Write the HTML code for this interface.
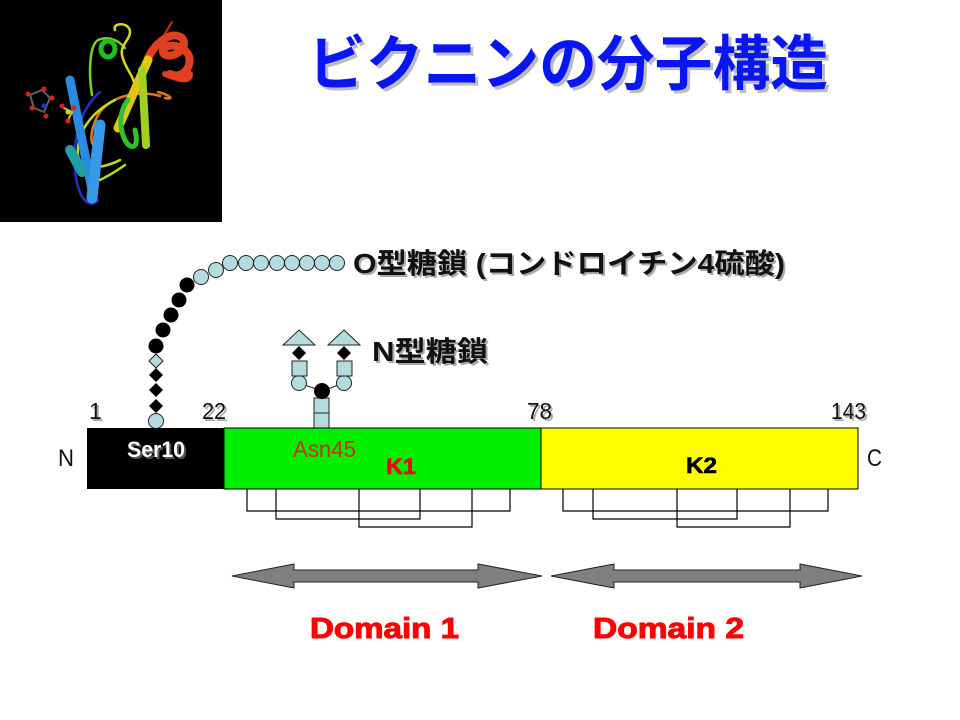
<!DOCTYPE html>
<html><head><meta charset="utf-8">
<style>
html,body{margin:0;padding:0;background:#fff;}
svg{display:block;}
text{font-family:"Liberation Sans","Noto Sans CJK JP",sans-serif;}
</style></head>
<body>
<svg width="960" height="720" viewBox="0 0 960 720" xmlns="http://www.w3.org/2000/svg">
<rect width="960" height="720" fill="#fff"/>

<!-- protein image -->
<rect x="0" y="0" width="222" height="222" fill="#000"/>
<g fill="none" stroke-linecap="round" stroke-linejoin="round">
  <path d="M150,58 L172,22" stroke="#d03010" stroke-width="2"/>
  <path d="M148,58 C156,42 172,30 182,38 C190,48 172,60 164,54 C158,46 178,40 188,54 C194,66 182,80 170,74" stroke="#e04020" stroke-width="8"/>
  <path d="M165,74 C180,80 190,82 190,74" stroke="#e04020" stroke-width="6"/>
  <path d="M160,96 C140,90 110,95 98,115 C88,135 90,150 100,146" stroke="#e07a20" stroke-width="2.5"/>
  <path d="M158,92 C170,95 175,100 165,98" stroke="#e07a20" stroke-width="2.5"/>
  <path d="M120,160 C100,170 80,170 78,155 C76,130 95,110 115,100" stroke="#c8d820" stroke-width="2.5"/>
  <path d="M92,95 C88,70 90,45 98,40 C110,35 120,42 125,48" stroke="#80d020" stroke-width="2.5"/>
  <path d="M115,30 C112,22 130,22 130,32 C130,40 120,45 122,55 C125,70 135,75 135,90" stroke="#d8d820" stroke-width="2.5"/>
  <ellipse cx="108" cy="49" rx="7" ry="8" stroke="#20c020" stroke-width="5"/>
  <path d="M118,128 L148,60" stroke="#e0c810" stroke-width="9"/>
  <path d="M142,70 L146,145" stroke="#a0d020" stroke-width="8"/>
  <path d="M128,100 C120,110 118,125 125,140 C130,150 140,150 135,130" stroke="#30c030" stroke-width="5"/>
  <path d="M100,92 C85,105 72,130 75,170 C78,200 90,210 98,200" stroke="#2030c0" stroke-width="2.5"/>
  <path d="M70,80 L92,190" stroke="#2a8ae0" stroke-width="9"/>
  <path d="M100,125 L92,198" stroke="#3898e8" stroke-width="11"/>
  <path d="M70,150 L82,172" stroke="#20a0a0" stroke-width="10"/>
  <path d="M100,180 C110,175 118,170 125,165" stroke="#b8d820" stroke-width="2.5"/>
  <path d="M30,95 L42,90 L50,98 L44,112 L34,108 Z" stroke="#606060" stroke-width="2"/>
  <path d="M64,108 L72,112 L68,120" stroke="#d0c020" stroke-width="2"/>
</g>
<g fill="#e02020">
  <circle cx="28" cy="94" r="2.5"/><circle cx="44" cy="89" r="2.5"/><circle cx="52" cy="98" r="2.5"/>
  <circle cx="32" cy="108" r="2.5"/><circle cx="46" cy="116" r="2.5"/><circle cx="62" cy="106" r="2.5"/>
  <circle cx="74" cy="108" r="2.5"/><circle cx="68" cy="121" r="2.5"/>
</g>
<circle cx="44" cy="106" r="2.5" fill="#2030e0"/>
<circle cx="68" cy="112" r="2.5" fill="#e0d020"/>

<!-- Title -->
<text x="311" y="88" font-size="60" font-weight="bold" fill="#bbbbbb" textLength="520" lengthAdjust="spacingAndGlyphs">ビクニンの分子構造</text>
<text x="308" y="85" font-size="60" font-weight="bold" fill="#0a16f2" textLength="520" lengthAdjust="spacingAndGlyphs">ビクニンの分子構造</text>

<!-- O-glycan chain -->
<g stroke="#222" stroke-width="1" fill="#b4dce0">
  <circle cx="337" cy="263" r="7.5"/><circle cx="322" cy="263" r="7.5"/><circle cx="307" cy="263" r="7.5"/>
  <circle cx="292" cy="263" r="7.5"/><circle cx="277" cy="263" r="7.5"/><circle cx="261" cy="263" r="7.5"/>
  <circle cx="246" cy="263" r="7.5"/><circle cx="230" cy="263" r="7.5"/>
  <circle cx="216" cy="270" r="7.5"/><circle cx="201" cy="277" r="7.5"/>
</g>
<g fill="#000">
  <circle cx="187" cy="285" r="7.5"/><circle cx="179" cy="300" r="7.5"/><circle cx="171" cy="315" r="7.5"/>
  <circle cx="163" cy="330" r="7.5"/><circle cx="156" cy="346" r="7.5"/>
  <polygon points="156,368 163,375 156,382 149,375"/>
  <polygon points="156,383 163,390 156,397 149,390"/>
  <polygon points="156,399 163,406 156,413 149,406"/>
</g>
<polygon points="156,354 163,361 156,368 149,361" fill="#b4dce0" stroke="#222" stroke-width="1"/>
<circle cx="156" cy="421" r="7.5" fill="#b4dce0" stroke="#222" stroke-width="1"/>

<!-- N-glycan -->
<g stroke="#222" stroke-width="1">
  <line x1="322" y1="391" x2="299" y2="383"/>
  <line x1="322" y1="391" x2="344" y2="383"/>
  <g fill="#b4dce0">
    <rect x="314" y="398" width="15" height="15"/>
    <rect x="314" y="413" width="15" height="15"/>
    <circle cx="299" cy="383" r="7.5"/><circle cx="344" cy="383" r="7.5"/>
    <rect x="292" y="361" width="15" height="15"/>
    <rect x="337" y="361" width="15" height="15"/>
    <polygon points="299,330 315,345 283,345"/>
    <polygon points="344,330 360,345 328,345"/>
  </g>
</g>
<circle cx="322" cy="391" r="8" fill="#000"/>
<polygon points="299,346 306,353 299,360 292,353" fill="#000"/>
<polygon points="344,346 351,353 344,360 337,353" fill="#000"/>

<!-- glycan labels -->
<text x="355" y="275" font-size="28" font-weight="bold" fill="#aaaaaa" textLength="432" lengthAdjust="spacingAndGlyphs">O型糖鎖 (コンドロイチン4硫酸)</text>
<text x="353" y="273" font-size="28" font-weight="bold" fill="#111" textLength="432" lengthAdjust="spacingAndGlyphs">O型糖鎖 (コンドロイチン4硫酸)</text>
<text x="374" y="363" font-size="28" font-weight="bold" fill="#aaaaaa" textLength="116" lengthAdjust="spacingAndGlyphs">N型糖鎖</text>
<text x="372" y="361" font-size="28" font-weight="bold" fill="#111" textLength="116" lengthAdjust="spacingAndGlyphs">N型糖鎖</text>

<!-- numbers -->
<g font-size="23" fill="#aaa">
  <text x="91" y="421">1</text>
  <text x="204" y="421" textLength="24" lengthAdjust="spacingAndGlyphs">22</text>
  <text x="529" y="421" textLength="25" lengthAdjust="spacingAndGlyphs">78</text>
  <text x="833" y="421" textLength="35" lengthAdjust="spacingAndGlyphs">143</text>
</g>
<g font-size="23" fill="#111">
  <text x="89" y="419">1</text>
  <text x="202" y="419" textLength="24" lengthAdjust="spacingAndGlyphs">22</text>
  <text x="527" y="419" textLength="25" lengthAdjust="spacingAndGlyphs">78</text>
  <text x="831" y="419" textLength="35" lengthAdjust="spacingAndGlyphs">143</text>
</g>
<text x="58" y="466" font-size="24" fill="#111" textLength="16" lengthAdjust="spacingAndGlyphs">N</text>
<text x="867" y="466" font-size="24" fill="#111" textLength="15" lengthAdjust="spacingAndGlyphs">C</text>

<!-- bar -->
<rect x="87" y="428" width="137" height="61" fill="#000"/>
<rect x="224" y="428" width="317" height="61" fill="#00ee00" stroke="#000" stroke-width="1"/>
<rect x="541" y="428" width="317" height="61" fill="#ffff00" stroke="#000" stroke-width="1"/>

<text x="129" y="459" font-size="22" font-weight="bold" fill="#555" textLength="58" lengthAdjust="spacingAndGlyphs">Ser10</text>
<text x="127" y="457" font-size="22" font-weight="bold" fill="#fff" textLength="58" lengthAdjust="spacingAndGlyphs">Ser10</text>
<text x="293" y="457" font-size="23" fill="#d42a10" textLength="63" lengthAdjust="spacingAndGlyphs">Asn45</text>
<text x="386" y="474" font-size="22" font-weight="bold" fill="#f00" stroke="#f00" stroke-width="0.6" textLength="30" lengthAdjust="spacingAndGlyphs">K1</text>
<text x="686" y="473" font-size="22" font-weight="bold" fill="#000" stroke="#000" stroke-width="0.6" textLength="31" lengthAdjust="spacingAndGlyphs">K2</text>

<!-- disulfide brackets -->
<g fill="none" stroke="#000" stroke-width="1.2">
  <path d="M247,489 V511 H510 V489"/>
  <path d="M276,489 V519 H420 V489"/>
  <path d="M359,489 V527 H472 V489"/>
  <path d="M563,489 V511 H828 V489"/>
  <path d="M593,489 V519 H737 V489"/>
  <path d="M677,489 V527 H790 V489"/>
</g>

<!-- arrows -->
<g fill="#7f7f7f" stroke="#222" stroke-width="1">
  <polygon points="232,576 294,564 294,570 478,570 478,564 542,576 478,588 478,582 294,582 294,588"/>
  <polygon points="551,576 614,564 614,570 800,570 800,564 862,576 800,588 800,582 614,582 614,588"/>
</g>

<text x="310" y="638" font-size="29" font-weight="bold" fill="#f00" stroke="#f00" stroke-width="1" textLength="149" lengthAdjust="spacingAndGlyphs">Domain 1</text>
<text x="593" y="638" font-size="29" font-weight="bold" fill="#f00" stroke="#f00" stroke-width="1" textLength="151" lengthAdjust="spacingAndGlyphs">Domain 2</text>
</svg>
</body></html>
